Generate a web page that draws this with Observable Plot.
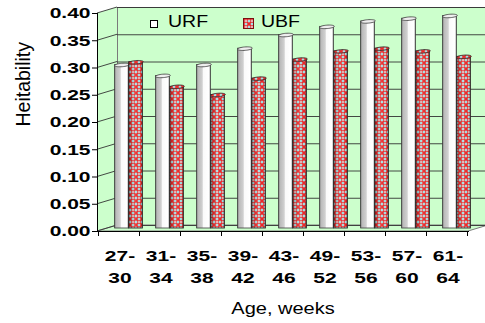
<!DOCTYPE html>
<html>
<head>
<meta charset="utf-8">
<script src="https://cdn.jsdelivr.net/npm/d3@7"></script>
<script src="https://cdn.jsdelivr.net/npm/@observablehq/plot@0.6"></script>
<style>
  html, body { margin: 0; padding: 0; background: #fff; }
  #chart { position: relative; width: 485px; height: 323px; overflow: hidden; }
  #chart svg text { font-family: "Liberation Sans", Arial, sans-serif; }
  .legend-item { position: absolute; font: 16px/16px "Liberation Sans", Arial, sans-serif; color: #000;
                 transform-origin: 0 50%; white-space: nowrap; }
  .swatch { position: absolute; box-sizing: border-box; }
</style>
</head>
<body>
<div id="chart"></div>
<script>
// Age classes (weeks) and heritability estimates per trait
const ages = ["27-30", "31-34", "35-38", "39-42", "43-46", "49-52", "53-56", "57-60", "61-64"];
const urf = [0.30, 0.28, 0.30, 0.33, 0.355, 0.37, 0.38, 0.385, 0.39];
const ubf = [0.305, 0.26, 0.245, 0.275, 0.31, 0.325, 0.33, 0.325, 0.315];
const seriesNames = ["URF", "UBF"];
const yTicks = [0, 0.05, 0.10, 0.15, 0.20, 0.25, 0.30, 0.35, 0.40];
const yLabel = "Heitability";
const xLabel = "Age, weeks";

const rows = ages.flatMap((age, i) => [
  {age, series: seriesNames[0], value: urf[i]},
  {age, series: seriesNames[1], value: ubf[i]}
]);
const urfRows = rows.filter(d => d.series === "URF");
const ubfRows = rows.filter(d => d.series === "UBF");

// layout and pseudo-3D projection
const W = 485, H = 323;
const M = {left: 97, right: 17, top: 13, bottom: 92};
const DX = 20, DY = -6;              // depth offset of the back wall
const step = (W - M.left - M.right) / ages.length;
const BAR = 14;                      // cylinder width
const wallGreen = "#ccffcc";

// slanted ellipse used as the cylinder top
const capSymbol = {
  draw(ctx) {
    const a = 7, ex = 2.2, ey = -1.8, n = 36;
    for (let k = 0; k <= n; k++) {
      const t = 2 * Math.PI * k / n;
      const px = a * Math.cos(t) + ex * Math.sin(t);
      const py = ey * Math.sin(t);
      if (k === 0) ctx.moveTo(px, py); else ctx.lineTo(px, py);
    }
    ctx.closePath();
  }
};

// gradients and fill pattern
const defsMark = () => {
  const g = d3.create("svg:g");
  const defs = g.append("defs");
  const grad = (id, stops) => {
    const lg = defs.append("linearGradient").attr("id", id).attr("x1", 0).attr("x2", 1).attr("y1", 0).attr("y2", 0);
    for (const [o, c, op] of stops) lg.append("stop").attr("offset", o).attr("stop-color", c).attr("stop-opacity", op ?? 1);
  };
  grad("cylWhite", [[0, "#7c7c7c"], [0.1, "#bababa"], [0.4, "#d0d0d0"], [0.5, "#fafafa"], [0.88, "#ffffff"], [1, "#a8a8a8"]]);
  grad("cylShade", [[0, "#000", 0.5], [0.14, "#000", 0.18], [0.5, "#fff", 0.1], [0.85, "#000", 0], [1, "#000", 0.35]]);
  const p = defs.append("pattern").attr("id", "lattice").attr("patternUnits", "userSpaceOnUse")
    .attr("width", 6).attr("height", 6);
  p.append("rect").attr("width", 6).attr("height", 6).attr("fill", "#a6e6ea");
  p.append("path").attr("d", "M0,0L6,6M6,0L0,6").attr("stroke", "#f02828").attr("stroke-width", 1.8);
  p.append("path").attr("d", "M3,2V4M2,3H4").attr("stroke", "#e8ffff").attr("stroke-width", 0.8);
  return g.node();
};

// side wall, floor and slanted gridlines
const wallsMark = (index, scales, values, dim) => {
  const x0 = dim.marginLeft, x1 = dim.width - dim.marginRight;
  const yb = dim.height - dim.marginBottom, yt = dim.marginTop;
  const g = d3.create("svg:g");
  g.append("path").attr("d", `M${x0},${yb}L${x0},${yt}L${x0 + DX},${yt + DY}L${x0 + DX},${yb + DY}Z`)
    .attr("fill", wallGreen);
  g.append("path").attr("d", `M${x0},${yb}L${x1},${yb}L${x1 + DX},${yb + DY}L${x0 + DX},${yb + DY}Z`)
    .attr("fill", wallGreen).attr("stroke", "#7a7a7a");
  for (const t of yTicks) {
    const y = scales.y(t);
    g.append("line").attr("x1", x0).attr("y1", y).attr("x2", x0 + DX).attr("y2", y + DY)
      .attr("stroke", "#333").attr("stroke-width", 0.9);
  }
  g.append("line").attr("x1", x0 + DX + 0.5).attr("x2", x0 + DX + 0.5)
    .attr("y1", yt + DY).attr("y2", yb + DY).attr("stroke", "#7a7a7a");
  return g.node();
};

// tick marks at the category boundaries of the front axis
const boundaryTicks = (index, scales, values, dim) => {
  const yb = dim.height - dim.marginBottom;
  const g = d3.create("svg:g");
  const xs = ages.map(a => scales.x(a)).concat([scales.x(ages[ages.length - 1]) + step]);
  for (const x of xs) {
    g.append("line").attr("x1", Math.round(x) + 0.5).attr("x2", Math.round(x) + 0.5)
      .attr("y1", yb).attr("y2", yb + 5).attr("stroke", "#000");
  }
  return g.node();
};

const chart = Plot.plot({
  width: W,
  height: H,
  marginLeft: M.left,
  marginRight: M.right,
  marginTop: M.top,
  marginBottom: M.bottom,
  style: {fontFamily: "Liberation Sans, Arial, sans-serif", fontSize: "15px", background: "#fff", color: "#000"},
  x: {type: "band", domain: ages, padding: 0, axis: null},
  y: {domain: [0, 0.4], axis: null},
  marks: [
    defsMark,
    Plot.frame({fill: wallGreen, stroke: "#7a7a7a", dx: DX, dy: DY}),
    wallsMark,
    Plot.ruleY(yTicks, {dx: DX, dy: DY, stroke: "#333", strokeWidth: 0.9}),

    // URF cylinders
    Plot.barY(urfRows, {x: "age", y: "value", dx: DX / 2, dy: DY / 2,
      insetLeft: step / 2 - BAR, insetRight: step / 2,
      fill: "url(#cylWhite)", stroke: "#3a3a3a", strokeWidth: 0.8}),
    Plot.dot(urfRows, {x: "age", y: "value", dx: DX / 2 - BAR / 2, dy: DY / 2, r: 7,
      symbol: capSymbol, fill: "#eeeeee", stroke: "#3a3a3a", strokeWidth: 0.8}),

    // UBF cylinders
    Plot.barY(ubfRows, {x: "age", y: "value", dx: DX / 2, dy: DY / 2,
      insetLeft: step / 2, insetRight: step / 2 - BAR, fill: "url(#lattice)"}),
    Plot.barY(ubfRows, {x: "age", y: "value", dx: DX / 2, dy: DY / 2,
      insetLeft: step / 2, insetRight: step / 2 - BAR,
      fill: "url(#cylShade)", stroke: "#2a2a2a", strokeWidth: 0.9}),
    Plot.dot(ubfRows, {x: "age", y: "value", dx: DX / 2 + BAR / 2, dy: DY / 2, r: 7,
      symbol: capSymbol, fill: "url(#lattice)", stroke: "#2a2a2a", strokeWidth: 0.8}),

    // front axes
    Plot.frame({anchor: "left", stroke: "#000"}),
    Plot.frame({anchor: "bottom", stroke: "#000"}),
    boundaryTicks,
    Plot.axisY(yTicks, {tickSize: 5, tickPadding: 2, tickFormat: d => d.toFixed(2),
      fontWeight: "bold", fontSize: 15, label: null}),
    Plot.axisX({tickSize: 0, tickPadding: 14, tickFormat: d => d.replace("-", "-\n"),
      fontWeight: "bold", fontSize: 15, lineHeight: 1.48, dx: 1, label: null}),
    Plot.text([xLabel], {frameAnchor: "bottom", text: d => d, dy: 77, fontSize: 16, lineAnchor: "middle"}),
    Plot.text([yLabel], {frameAnchor: "left", text: d => d, rotate: -90, dx: -73.7, dy: 4, fontSize: 19.5})
  ]
});

const host = document.getElementById("chart");
host.appendChild(chart);

// widen the lettering horizontally, as in the original chart
function stretch(el, f) {
  const spans = el.querySelectorAll("tspan");
  const targets = spans.length ? Array.from(spans) : [el];
  for (const t of targets) {
    const w = t.getComputedTextLength();
    if (w > 0) {
      t.setAttribute("textLength", (w * f).toFixed(2));
      t.setAttribute("lengthAdjust", "spacingAndGlyphs");
    }
  }
}
chart.querySelectorAll('[aria-label="y-axis tick label"] text').forEach(t => stretch(t, 1.4));
chart.querySelectorAll('[aria-label="x-axis tick label"] text').forEach(t => stretch(t, 1.4));
chart.querySelectorAll('[aria-label="text"] text').forEach(t => {
  if (t.textContent === xLabel) stretch(t, 1.25);
});

// legend, inside the top band of the plot
const legend = [
  {name: seriesNames[0], sw: {left: 150, top: 20, size: 8}, fill: "#fff", stroke: "#000", textLeft: 168},
  {name: seriesNames[1], sw: {left: 243, top: 18, size: 11}, fill: "url(#lattice)", stroke: "#7a1010", textLeft: 261}
];
for (const item of legend) {
  const s = d3.select(host).append("svg").attr("class", "swatch")
    .style("left", item.sw.left + "px").style("top", item.sw.top + "px")
    .attr("width", item.sw.size).attr("height", item.sw.size);
  s.append("rect").attr("x", 0.5).attr("y", 0.5).attr("width", item.sw.size - 1).attr("height", item.sw.size - 1)
    .attr("fill", item.fill).attr("stroke", item.stroke);
  d3.select(host).append("div").attr("class", "legend-item")
    .style("left", item.textLeft + "px").style("top", "13.5px")
    .style("transform", "scaleX(1.22)").text(item.name);
}
</script>
</body>
</html>
